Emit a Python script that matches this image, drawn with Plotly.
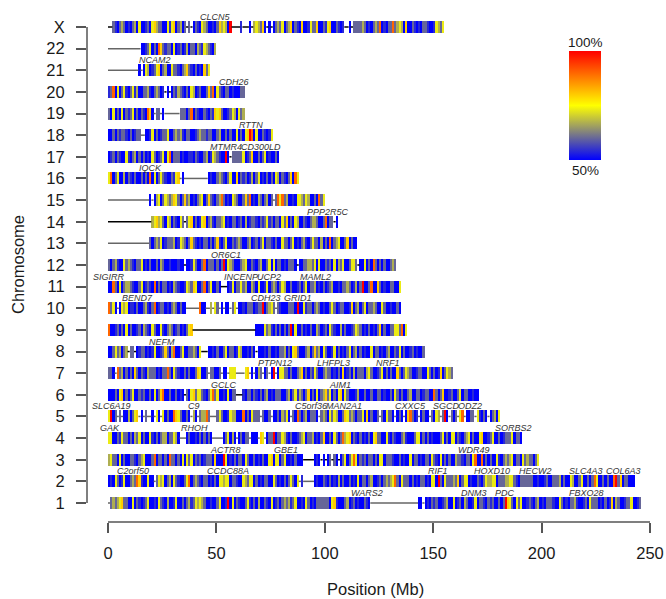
import plotly.graph_objects as go

# Stripe levels per 1 Mb, read by eye ('.' = no data, only the connecting line)
chr1 = ".gogoyaggb bybgibigyb bibygibobb iybbgbgoig yoyogbbibb gybbiRbybg ibbgyibgbo bbgibybigb gogoigybbi bygbibgggg ggbyaibbbg obigbibbgi b......... .......... ...bb.bibg igbbigobby bigbogbbiy bggibgigbb gbgRaygbyg ybbigibgob ibgggibbyg bibggoibbi gbygggbibg biabogbbig gybbig"
chr2 = "bibygbiybb gograibbyb b.gyoybgob ygibbgyrbg ogibggbibg byyoyybggi bbyogyybgb ibggbbygbi bgbgygby.i .....bibbg ibgbibobgb bgbibybggb gobbigbgog oyrgbygggb gbibggbiby ybRgbygggo gabgyybibb gibgyooyyb gggooyygib ggggggbbib bigbbgggob gbbyobbgyb bgbgrybbgb gbbrRgabgg bbb"
chr3 = "oyggbybgbb ggibgoybbb grbggbgbrg gbgbybygyb gigbigggba bbbRybibgb ggbygbbgbi bgbbyabyyb gybbibgbbb .....bib.b .bg.gb.bgy bgyrybgigb ggbgbyybgg gibbgbibby bggbibggby gibybgbgbb oggibggbyr bbrbgbgbby ibgogoybgg bygoggbgy"
chr4 = "yybbgiyggb gbogybgbby ibgbgoobgg yob...bgbb ibgbgbgb.. ...bgybob. bgbgg.bbb. ay.bggRbgg yoibgbbigo ybggobibga bbgbygbgro yabgibgbib gbyaggbbyi bgibbgoibb bgyybgbgbi bbbgybgbyy bgibgoybgb byabbigybb gbigggybgg b"
chr5 = "yRbg.g.bbo bgya.b.g.. b.yb.ybgbb raygbbgb.o b.goorg... gygbbiyoob bbrbgbyggg .gbbg.bbgb ogyb.gbrgb gobgggb.go gbygyobbga ygogbggyba bgbbg.gbyg gb.bgb.bar gbi.bgbb.g byo.gRb.gb g.yr.bbgg. yibgb.bgob y"
chr6 = "bbbgbyabgb gybbgigbbg bybgarbbgb bgbib.gbya gyygibgyrg ybbibybgg. ..ibggbgib gbgobibggg bbgobgyiog bgabgbybgo agybgbyaby gbbbiobbgb bgbbggbibb gbygbgbbgo bbggbiggbb rgbgabbigb bgybggbbib b"
chr7 = "ggb.rgobgb gbagbgibog ggbibggrgb ygibbgbgbb gaybbg.ggb bg.bb.yyy. ...ya.b.bo g.bg.bR.by yggbgbbgoa bgbgiygbbg oggbibgbab igbobgggbo ygbbigybgb gbbagbgyog bbiggbbygb gbiabgyog"
chr8 = "bbgygobgo. gg.biggbib iybbigagbo rbbgybbggo gby...bbib gbbgybggbi yobbibgb.b bbibgbbibg gobgbyagbb bgobgagoby gbbiybgbib gybgobgbib bybggbibgo bbgiybgbbi gbibbg"
chr9 = "rbbigbgbyb gbbigbogib ygbbyibgog bigbibgya. .......... .......... ........bb bbygoibgbg bgbgRbybbg bibgbbogbi gbygibbobg bbigyogbib gbibgabgbb ggyygrby"
chr10 = "rgyb.byoyb iibgbbgoib grbiggbibg ogbgbb.... ..rbb..o.y g.b.bb.gy. bbibgggbig gRbgoyg.gi bbbgggbRbb yiggbgogbi bbgygbiggb biabgobgyb ggogbbygbb ibbgb"
chr11 = "bbrgbybgoo gibbgybigi brbgbggbib ogibbiyoga ybbgrbgybb gb...biybg gygobbogby bbiybgogbg yobbgbbigb gybggobibg bigobbibgg ogbiobgRbb grbbagbibb ggbby"
chr12 = "gbgoibbygo gibggybibg bbgbogbbib bbibb.bbiy gbbgrbgggb gbgRbyogbb bgoybbgibg obbgybybgg bibgggb.bb ggoogybybb gigbybogyb bgyyg.bbyb gbrgbgbgbb gog"
chr13 = ".......... .........g bgogybiggg obiyogbgag ibibggbgbg aibgybbgig ogbbgobigb gybggibgbb yggbgybibg oibgyggbob gbrbgoybbg abgbb"
chr14 = ".......... .......... oyaoygbyob gibyg.gyab gbiyabgoib ggoybibggb igbobiggib gigyigbggb ygabgbyobb gibgoogbbg rbgg.b"
chr15 = ".......... .........b .boybgyogo aygbgagobi bgoybgagib gorgbibyog bbgagrbibo gbgobg.gry rgobbibyyo gyobbgbrgy"
chr16 = "yrbgybbobg ibgbbgbgbr bybgygibbg iya.b..... ......bibb gogibgybba bgigbiobgy bibgbgbyob gibgabry"
chr17 = "bigbgibbyi bgobgbgbib ygbigybyrb gggbibbiib gibbgobiyo gibbRb.ggg ggybigabbg bgybibbgb"
chr18 = "bbgbgiggib gbigg..bbi ybgbiggybb gogoibggbb igoggiggbb gobbgbgbby bgbyaRrbyb bgibiy"
chr19 = "gbybgbybgi gybgbgibra b.gg.b.... ...gggbgrb gibbgibgia yagbbigyob ygo"
chr20 = "igrbybgyib gyiobbggoi bgogbi.b.b giogibgbyo bigbbgagrb ygibggbibb bgg"
chr21 = ".......... ....b.byob igyabgobby ggibgoagib gbibagy"
chr22 = ".......... .....bbigy bgbragiggb ybigbiobgg bogiyogibo"
chrX = "..gibgogbi bgobybbigb yaoggbbyiy abgobg.g.b gibyogbbib gaoyobR... .i...b.oyo gab.b.bgog ybgoabgiba bbiyggabbg iyabbgibi. .b.ggggogb ibgogrbibg grgoyobabb gibibggibb iyogy"

stripes_by_row = [chr1, chr2, chr3, chr4, chr5, chr6, chr7, chr8, chr9, chr10, chr11, chr12,
                  chr13, chr14, chr15, chr16, chr17, chr18, chr19, chr20, chr21, chr22, chrX]
chrom_labels = [str(i) for i in range(1, 23)] + ["X"]

# Percent value for each stripe letter
level_values = {"b": 50, "i": 54, "g": 60, "o": 67, "y": 73, "a": 80, "r": 90, "R": 100}

# Colour of the connecting line per chromosome
line_is_black = [False, False, True, False, False, True, False, True, True, False, True, True,
                 False, True, False, False, True, False, False, True, False, False, True]

x_ticks = [0, 50, 100, 150, 200, 250]

gene_names = ["WARS2", "DNM3", "PDC", "FBXO28",
              "C2orf50", "CCDC88A", "RIF1", "HOXD10", "HECW2", "SLC4A3", "COL6A3",
              "ACTR8", "GBE1", "WDR49",
              "GAK", "RHOH", "SORBS2",
              "SLC6A19", "C9", "C5orf36", "MAN2A1", "CXXC5", "SGCD", "ODZ2",
              "GCLC", "AIM1",
              "PTPN12", "LHFPL3", "NRF1",
              "NEFM",
              "BEND7", "CDH23", "GRID1",
              "SIGIRR", "INCENP", "UCP2", "MAML2",
              "OR6C1", "PPP2R5C", "IQCK", "MTMR4", "CD300LD", "RTTN", "CDH26", "NCAM2", "CLCN5"]
gene_rows = [1, 1, 1, 1,
             2, 2, 2, 2, 2, 2, 2,
             3, 3, 3,
             4, 4, 4,
             5, 5, 5, 5, 5, 5, 5,
             6, 6,
             7, 7, 7,
             8,
             10, 10, 10,
             11, 11, 11, 11,
             12, 14, 16, 17, 17, 18, 20, 21, 23]
gene_pos = [119.5, 168.8, 183, 220.5,
            11.5, 55.4, 152, 177, 197, 220.5, 238,
            54, 82, 168.8,
            1, 40, 187,
            1.4, 39.7, 93.6, 109, 139.3, 156, 167,
            53.5, 107,
            77, 104.2, 129,
            25,
            13.8, 72.9, 87.6,
            0.5, 61.3, 74.3, 95.5,
            54.4, 101.5, 19.8, 54.4, 70.6, 66, 58, 21.7, 49.4]

colorscale = [[0, "#0000ff"], [0.25, "#808080"], [0.5, "#ffff00"], [1, "#ff0000"]]

ys, starts, widths, zs = [], [], [], []
black_x, black_y, grey_x, grey_y = [], [], [], []
for r, text in enumerate(stripes_by_row):
    row = r + 1
    s = text.replace(" ", "")
    i = 0
    while i < len(s):
        if s[i] == ".":
            j = i
            while j < len(s) and s[j] == ".":
                j += 1
            lx, ly = (black_x, black_y) if line_is_black[r] else (grey_x, grey_y)
            lx += [i, j, None]
            ly += [row, row, None]
            i = j
        else:
            ys.append(row)
            starts.append(i)
            widths.append(1)
            zs.append(level_values[s[i]])
            i += 1

W, H = 666, 599
L, R, T, B = 87, 660, 10, 522
X0, PXMB = 108, (650 - 108) / 250
Y1, PXROW = 503, (503 - 27) / 22

fig = go.Figure()
fig.add_trace(go.Bar(
    y=ys, x=widths, base=starts, orientation="h", width=12 / PXROW,
    marker=dict(
        color=zs, cmin=50, cmax=100, colorscale=colorscale, line=dict(width=0),
        colorbar=dict(
            lenmode="pixels", len=109, thicknessmode="pixels", thickness=32,
            x=(569 - L) / (R - L), xanchor="left", xpad=0,
            y=1 - (51 - T) / (B - T), yanchor="top", ypad=0,
            outlinewidth=0, showticklabels=False, ticks="",
        ),
    ),
    hoverinfo="skip", showlegend=False,
))
fig.add_trace(go.Scatter(x=grey_x, y=grey_y, mode="lines", line=dict(color="#666666", width=1.5),
                         hoverinfo="skip", showlegend=False))
fig.add_trace(go.Scatter(x=black_x, y=black_y, mode="lines", line=dict(color="#000000", width=1.5),
                         hoverinfo="skip", showlegend=False))

annotations = []
for name, row, pos in zip(gene_names, gene_rows, gene_pos):
    annotations.append(dict(x=pos, y=row + 10 / PXROW, text=name, showarrow=False, xanchor="center",
                            yanchor="middle", font=dict(family="Liberation Sans", size=9, color="#333333",
                                                        style="italic")))
font_big = dict(family="Liberation Sans", size=16.5, color="#1a1a1a")
font_bar = dict(family="Liberation Sans", size=13.5, color="#1a1a1a")
annotations += [
    dict(xref="paper", yref="paper", x=(375 - L) / (R - L), y=1 - (589 - T) / (B - T), text="Position (Mb)",
         showarrow=False, font=font_big, xanchor="center", yanchor="middle", borderpad=0),
    dict(xref="paper", yref="paper", x=(18 - L) / (R - L), y=1 - (265 - T) / (B - T), text="Chromosome",
         showarrow=False, font=font_big, textangle=-90, xanchor="center", yanchor="middle"),
    dict(xref="paper", yref="paper", x=(585 - L) / (R - L), y=1 - (42 - T) / (B - T), text="100%",
         showarrow=False, font=font_bar, xanchor="center", yanchor="middle"),
    dict(xref="paper", yref="paper", x=(585 - L) / (R - L), y=1 - (170 - T) / (B - T), text="50%",
         showarrow=False, font=font_bar, xanchor="center", yanchor="middle"),
]

axis_line = dict(color="#555555", width=1.5)
shapes = [
    dict(type="line", xref="x", yref="paper", x0=x_ticks[0], x1=x_ticks[-1], y0=0, y1=0, line=axis_line),
    dict(type="line", xref="paper", yref="y", x0=0, x1=0, y0=1, y1=23, line=axis_line),
]

fig.update_layout(
    width=W, height=H, autosize=False,
    margin=dict(l=L, r=W - R, t=T, b=H - B, pad=0, autoexpand=False),
    paper_bgcolor="white", plot_bgcolor="white",
    barmode="overlay", bargap=0,
    annotations=annotations, shapes=shapes,
    xaxis=dict(range=[(L - X0) / PXMB, (R - X0) / PXMB], tickvals=x_ticks, showgrid=False, zeroline=False,
               showline=False, ticks="outside", ticklen=10, tickwidth=1.5, tickcolor="#555555",
               tickfont=font_big, ticklabelstandoff=6),
    yaxis=dict(range=[1 - (B - Y1) / PXROW, 23 + (27 - T) / PXROW],
               tickvals=list(range(1, 24)), ticktext=chrom_labels, showgrid=False, zeroline=False,
               showline=False, ticks="outside", ticklen=10, tickwidth=1.5, tickcolor="#555555",
               tickfont=font_big, ticklabelstandoff=8),
)
fig.write_html("out.html", config={"displayModeBar": False},
               post_script="document.body.style.margin='0';document.body.style.overflow='hidden';")
